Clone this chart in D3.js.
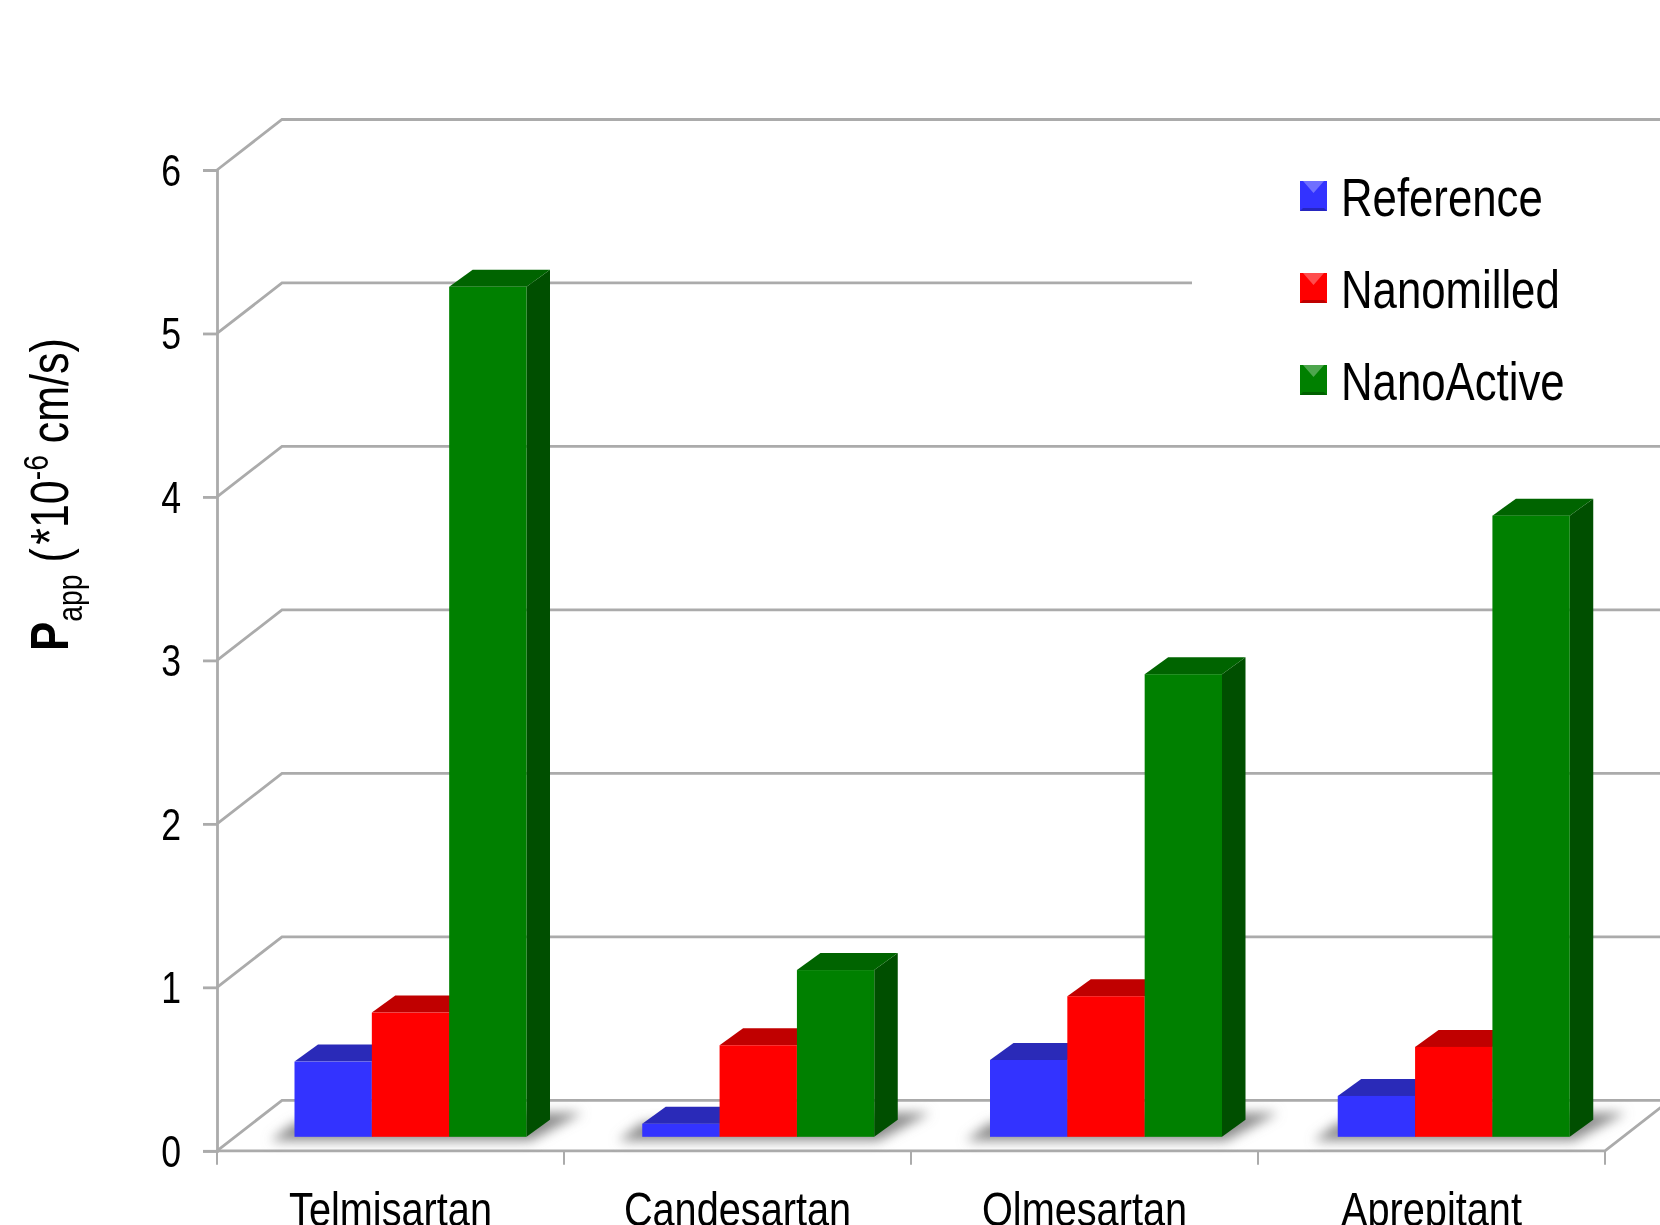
<!DOCTYPE html>
<html>
<head>
<meta charset="utf-8">
<script src="https://cdn.jsdelivr.net/npm/d3@7"></script>
<style>
  html, body { margin: 0; padding: 0; background: #fff; }
  svg { display: block; filter: blur(0.5px); }
  text { font-family: "Liberation Sans", Arial, sans-serif; fill: #000; }
</style>
</head>
<body>
<svg id="chart"></svg>
<script>
const categories = ["Telmisartan", "Candesartan", "Olmesartan", "Aprepitant"];
const seriesNames = ["Reference", "Nanomilled", "NanoActive"];
const reference = [0.46, 0.08, 0.47, 0.25];
const nanomilled = [0.76, 0.56, 0.86, 0.55];
const nanoActive = [5.2, 1.02, 2.83, 3.8];
const yTicks = [0, 1, 2, 3, 4, 5, 6];

const seriesValues = [reference, nanomilled, nanoActive];
const frontColor = ["#3333ff", "#ff0000", "#008000"];
const topColor = ["#2a2ab8", "#c00000", "#006400"];
const sideColor = ["#20208c", "#900000", "#004f00"];

const width = 1660;
const height = 1225;
const narrow = 0.81; // the picture's text is squeezed horizontally
const wallDx = 65;
const wallDy = 50.5;
const barDx = 23.5;
const barDy = 17;
const baseLift = 14;

const svg = d3.select("#chart").attr("width", width).attr("height", height);

const x = d3.scaleBand().domain(categories).range([217, 1605]);
// bar groups step very slightly wider than the axis bands in the picture
const xBars = d3.scaleBand().domain(categories).range([217, 1608]);
const inner = d3.scaleBand().domain(seriesNames).range([77.5, 309.5]);
const y = d3.scaleLinear().domain([0, 6]).range([1150.8, 170]);

const gridColor = "#ababab";
const defs = svg.append("defs");
defs.append("filter").attr("id", "soft")
  .attr("x", "-30%").attr("y", "-150%").attr("width", "160%").attr("height", "400%")
  .append("feGaussianBlur").attr("stdDeviation", 6);

// Back wall and side wall
const grid = svg.append("g")
  .attr("fill", "none")
  .attr("stroke", gridColor)
  .attr("stroke-width", 2.8);

grid.selectAll("path.wall")
  .data(yTicks)
  .join("path")
  .attr("class", "wall")
  .attr("d", (d) => `M${x.range()[0]},${y(d)}L${x.range()[0] + wallDx},${y(d) - wallDy}H${width + 5}`);

// Floor edges
grid.append("path")
  .attr("d", `M${x.range()[0]},${y(0)}H${x.range()[1]}L${x.range()[1] + wallDx},${y(0) - wallDy}`);

// Legend sits on a white box which hides part of the 5 line
svg.append("rect")
  .attr("x", 1192).attr("y", 160)
  .attr("width", width - 1192).attr("height", 260)
  .attr("fill", "#fff");

// y axis
const yAxis = svg.append("g")
  .attr("transform", `translate(${x.range()[0]},0)`)
  .call(d3.axisLeft(y).tickValues(yTicks).tickFormat(d3.format("d")).tickSize(14).tickPadding(0));
yAxis.select(".domain").attr("stroke", gridColor).attr("stroke-width", 2.8);
yAxis.selectAll(".tick line").attr("stroke", gridColor).attr("stroke-width", 2.8);
yAxis.selectAll(".tick text")
  .style("font-size", "44px")
  .attr("text-anchor", "end")
  .attr("x", 0).attr("y", 0).attr("dy", "0.35em")
  .attr("transform", `translate(-36,0) scale(${narrow},1)`);

// x axis: labels come from the band axis, ticks mark the band edges
const xAxis = svg.append("g")
  .attr("transform", `translate(0,${y(0)})`)
  .call(d3.axisBottom(x).tickSize(0).tickPadding(0));
xAxis.select(".domain").remove();
xAxis.selectAll(".tick text")
  .style("font-size", "49px")
  .attr("y", 0).attr("dy", 0)
  .attr("transform", `translate(0,75) scale(${narrow},1)`);

svg.append("g")
  .selectAll("line")
  .data(categories.concat("end"))
  .join("line")
  .attr("x1", (d, i) => x.range()[0] + i * x.step())
  .attr("x2", (d, i) => x.range()[0] + i * x.step())
  .attr("y1", y(0))
  .attr("y2", y(0) + 14)
  .attr("stroke", gridColor)
  .attr("stroke-width", 2);

// Bars
const base = y(0) - baseLift;

const groups = svg.append("g")
  .selectAll("g")
  .data(categories)
  .join("g")
  .attr("transform", (d) => `translate(${xBars(d)},0)`);

// Floor shadow under each group
groups.append("path")
  .attr("fill", "#8c8c8c")
  .attr("filter", "url(#soft)")
  .attr("d", () => {
    const l = inner(seriesNames[0]);
    const r = inner(seriesNames[2]) + inner.bandwidth();
    return `M${l - 24},${base + 4}H${r + 4}L${r + 56},${base - 24}H${r}L${l},${base - 14}Z`;
  });

groups.each(function (cat, ci) {
  const g = d3.select(this);
  seriesNames.forEach((name, si) => {
    const v = seriesValues[si][ci];
    const x0 = inner(name);
    const x1 = x0 + inner.bandwidth();
    const top = y(v) - baseLift;

    g.append("path")
      .attr("fill", sideColor[si])
      .attr("d", `M${x1},${base}L${x1 + barDx},${base - barDy}V${top - barDy}L${x1},${top}Z`);
    g.append("path")
      .attr("fill", topColor[si])
      .attr("d", `M${x0},${top}L${x0 + barDx},${top - barDy}H${x1 + barDx}L${x1},${top}Z`);
    g.append("rect")
      .attr("x", x0)
      .attr("y", top)
      .attr("width", inner.bandwidth())
      .attr("height", base - top)
      .attr("fill", frontColor[si]);
  });
});

// Legend
const legend = svg.append("g")
  .selectAll("g")
  .data(seriesNames)
  .join("g")
  .attr("transform", (d, i) => `translate(1300,${181 + i * 92})`);

legend.append("rect")
  .attr("width", 27).attr("height", 30)
  .attr("fill", (d, i) => frontColor[i]);
legend.append("path")
  .attr("d", "M3,0H24L13.5,12Z")
  .attr("fill", "#fff")
  .attr("fill-opacity", 0.3);
legend.append("path")
  .attr("d", "M0,30H27L24,27H3Z")
  .attr("fill", "#000")
  .attr("fill-opacity", 0.25);
legend.append("text")
  .attr("transform", `translate(41,35) scale(${narrow},1)`)
  .style("font-size", "54px")
  .text((d) => d);

// y title with the subscript and superscript
const title = svg.append("text")
  .attr("transform", `translate(68,651) rotate(-90) scale(${narrow},1)`)
  .style("font-size", "53px");
title.append("tspan").attr("font-weight", "bold").style("font-size", "54px").text("P");
title.append("tspan").attr("dy", 14).style("font-size", "35px").text("app");
title.append("tspan").attr("dy", -14).text(" (\u200a*10");
title.append("tspan").attr("dy", -20).style("font-size", "35px").text("-6");
title.append("tspan").attr("dy", 20).text(" cm/s)");
</script>
</body>
</html>
